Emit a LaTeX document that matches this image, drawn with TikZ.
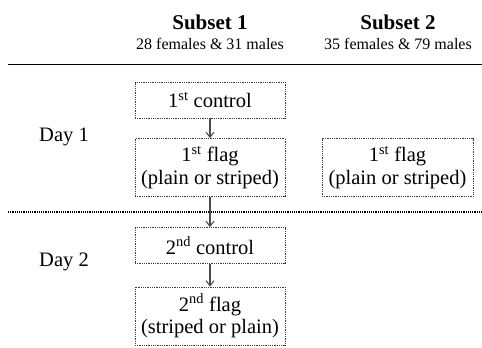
\documentclass[tikz,border=0pt]{standalone}
\usepackage{fontspec}
\setmainfont{Liberation Serif}
\usetikzlibrary{positioning}
\usetikzlibrary{arrows.meta}
\definecolor{boxline}{RGB}{60,60,60}
\definecolor{arrowline}{RGB}{75,75,75}

\begin{document}
\begin{tikzpicture}[x=1pt, y=-1pt, >={Straight Barb[length=5pt,width=8pt]},
  stage/.style={draw=boxline, densely dotted, line width=0.8pt, minimum width=150pt, inner sep=2pt, align=center, font=\fontsize{20.5}{22.5}\selectfont},
  small stage/.style={stage, minimum height=36pt},
  big stage/.style={stage, minimum height=58pt},
  head/.style={font=\fontsize{21}{24}\selectfont\bfseries},
  sub/.style={font=\fontsize{16}{18}\selectfont},
  day/.style={font=\fontsize{20.5}{24}\selectfont},
  step arrow/.style={->, draw=arrowline, line width=1.1pt}]

\useasboundingbox (0,0) rectangle (482,348);

% column heads
\node [head] (s1) at (210,22) {Subset 1};
\node [sub] (s1n) at (210,44) {28 females \& 31 males};
\node [head] (s2) at (398,22) {Subset 2};
\node [sub] (s2n) at (398,44) {35 females \& 79 males};

\coordinate (topl) at (8,64);
\coordinate (topr) at (482,64);
\draw [line width=1pt] (topl) -- (topr);

% day labels
\node [day] (d1) at (64,137) {Day 1};
\node [day] (d2) at (64,262) {Day 2};

% subset 1
\node [small stage] (c1) at (210,100) {1\textsuperscript{st} control};
\node [big stage] (f1) at (210,167.5) {1\textsuperscript{st} flag\\(plain or striped)};
\node [small stage] (c2) at (210,245.5) {2\textsuperscript{nd} control};
\node [big stage] (f2) at (210,316) {2\textsuperscript{nd} flag\\(striped or plain)};

% subset 2
\node [big stage, minimum width=151pt] (g1) at (397.5,167.5) {1\textsuperscript{st} flag\\(plain or striped)};

% day separator
\coordinate (midl) at (8,212);
\coordinate (midr) at (482,212);
\draw [densely dotted, line width=1.2pt] (midl) -- (midr);

\draw [step arrow] (c1) -- (f1);
\draw [step arrow] (f1) -- (c2);
\draw [step arrow] (c2) -- (f2);

\end{tikzpicture}
\end{document}
